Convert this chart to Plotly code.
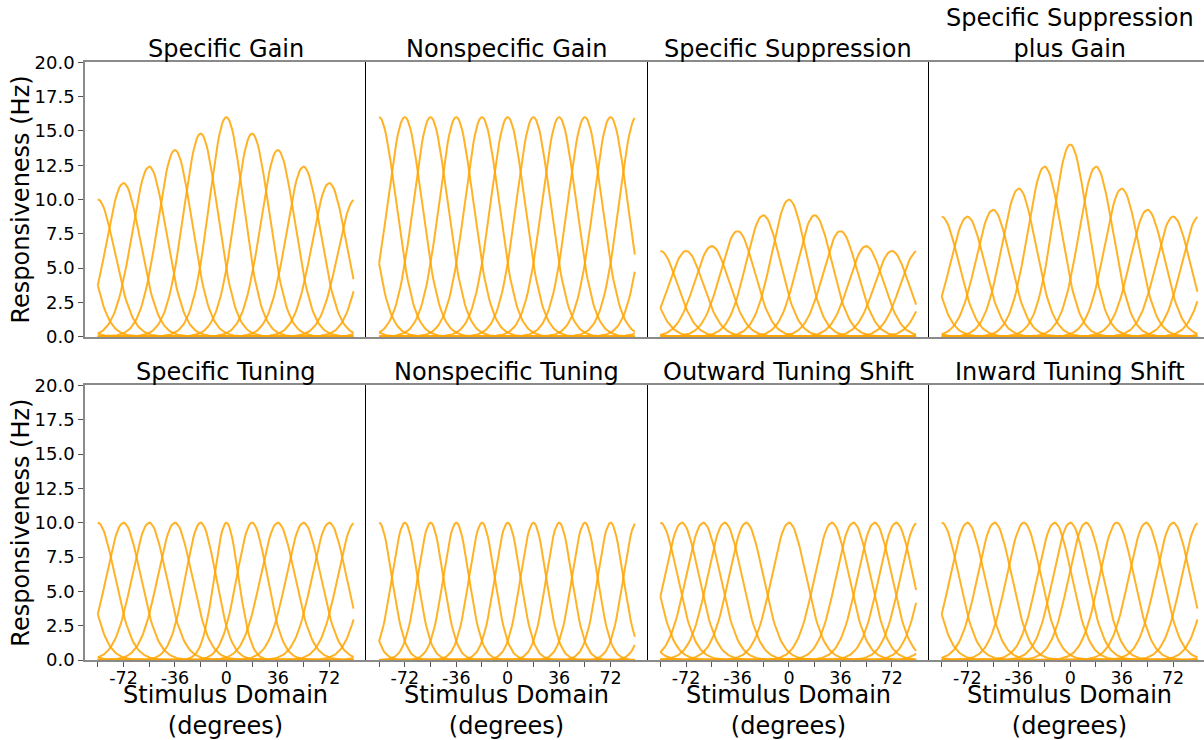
import numpy as np
import plotly.graph_objects as go

# ---------------- data ----------------
panel_titles = ["Specific Gain", "Nonspecific Gain", "Specific Suppression",
                "Specific Suppression<br>plus Gain",
                "Specific Tuning", "Nonspecific Tuning",
                "Outward Tuning Shift", "Inward Tuning Shift"]

stimulus_start, stimulus_stop, stimulus_step = -90, 90, 1.0

preferred_deg = [-90, -72, -54, -36, -18, 0, 18, 36, 54, 72]
outward_deg = [-90, -75, -60, -45, -30, 0, 30, 45, 60, 75]
inward_deg = [-90, -72, -53, -32.5, -11, 0, 11, 32.5, 53, 72]

baseline_amp = [10, 10, 10, 10, 10, 10, 10, 10, 10, 10]
specific_gain_amp = [10, 11.2, 12.4, 13.6, 14.8, 16, 14.8, 13.6, 12.4, 11.2]
nonspecific_gain_amp = [16, 16, 16, 16, 16, 16, 16, 16, 16, 16]
specific_supp_amp = [6.25, 6.25, 6.6, 7.7, 8.85, 10, 8.85, 7.7, 6.6, 6.25]
supp_plus_gain_amp = [8.75, 8.75, 9.25, 10.8, 12.4, 14, 12.4, 10.8, 9.25, 8.75]

baseline_kappa = [5.75, 5.75, 5.75, 5.75, 5.75, 5.75, 5.75, 5.75, 5.75, 5.75]
specific_tuning_kappa = [5.75, 5.75, 5.75, 5.75, 7.3, 11.5, 7.3, 5.75, 5.75, 5.75]
nonspecific_tuning_kappa = [10.4, 10.4, 10.4, 10.4, 10.4, 10.4, 10.4, 10.4, 10.4, 10.4]

panel_centers = [preferred_deg, preferred_deg, preferred_deg, preferred_deg,
                 preferred_deg, preferred_deg, outward_deg, inward_deg]
panel_amps = [specific_gain_amp, nonspecific_gain_amp, specific_supp_amp,
              supp_plus_gain_amp, baseline_amp, baseline_amp, baseline_amp, baseline_amp]
panel_kappas = [baseline_kappa, baseline_kappa, baseline_kappa, baseline_kappa,
                specific_tuning_kappa, nonspecific_tuning_kappa,
                baseline_kappa, baseline_kappa]

x_tick_vals = [-90, -72, -54, -36, -18, 0, 18, 36, 54, 72]
x_tick_text = ["", "-72", "", "-36", "", "0", "", "36", "", "72"]
y_tick_vals = [0, 2.5, 5, 7.5, 10, 12.5, 15, 17.5, 20]
y_tick_text = ["0.0", "2.5", "5.0", "7.5", "10.0", "12.5", "15.0", "17.5", "20.0"]

# ---------------- layout geometry (pixels) ----------------
W, H = 1204, 740
FONT = "DejaVu Sans"
col_left_px = [85.0, 366.3, 647.6, 928.9]
col_w_px = 281.3
row_px = [(62.3, 336.7), (385.4, 660.0)]
x_lo, x_hi = -98.95, 97.95
px_per_deg = col_w_px / (x_hi - x_lo)

stim = np.arange(stimulus_start, stimulus_stop, stimulus_step)

fig = go.Figure()
annotations = []
for p in range(8):
    r, c = divmod(p, 4)
    ax = "" if p == 0 else str(p + 1)
    for ctr, amp, kap in zip(panel_centers[p], panel_amps[p], panel_kappas[p]):
        resp = amp * np.exp(kap * (np.cos(np.deg2rad(2 * (stim - ctr))) - 1))
        fig.add_trace(go.Scatter(x=stim, y=resp, mode="lines",
                                 line=dict(color="rgba(255,165,0,0.85)", width=2),
                                 xaxis="x" + ax, yaxis="y" + ax,
                                 hoverinfo="skip", showlegend=False))
    left = col_left_px[c]
    right = min(left + col_w_px, W)
    rng_hi = x_lo + (right - left) / px_per_deg
    top, bot = row_px[r]
    fig.layout["xaxis" + ax] = dict(
        domain=[left / W, right / W], range=[x_lo, rng_hi], anchor="y" + ax,
        automargin=False,
        showline=True, linecolor="#8a8a8a", linewidth=1.5, mirror=True,
        showgrid=False, zeroline=False,
        tickmode="array", tickvals=x_tick_vals, ticktext=x_tick_text,
        ticks="outside" if r == 1 else "", ticklen=5, tickcolor="#555", tickwidth=1,
        ticklabelstandoff=-4,
        showticklabels=(r == 1),
        tickfont=dict(family=FONT, size=17.5, color="black"))
    ydict = dict(domain=[1 - bot / H, 1 - top / H], range=[0, 20], anchor="x" + ax,
                 automargin=False,
                 showgrid=False, zeroline=False, showline=True)
    if c == 0:
        ydict.update(linecolor="#8a8a8a", linewidth=1.5,
                     tickmode="array", tickvals=y_tick_vals, ticktext=y_tick_text,
                     ticks="outside", ticklen=5, tickcolor="#555", tickwidth=1,
                     tickfont=dict(family=FONT, size=18, color="black"))
    else:
        ydict.update(linecolor="black", linewidth=1, ticks="", showticklabels=False)
    fig.layout["yaxis" + ax] = ydict

    cx = (left + col_w_px / 2) / W
    annotations.append(dict(text=panel_titles[p], x=cx, y=1 - (top + 3) / H,
                            xref="paper", yref="paper", xanchor="center", yanchor="bottom",
                            showarrow=False, font=dict(family=FONT, size=24, color="black")))
    if r == 1:
        annotations.append(dict(text="Stimulus Domain<br>(degrees)", x=cx, y=1 - 680 / H,
                                xref="paper", yref="paper", xanchor="center", yanchor="top",
                                borderpad=0, showarrow=False,
                                font=dict(family=FONT, size=24, color="black")))
    if c == 0:
        annotations.append(dict(text="Responsiveness (Hz)", x=21 / W, y=1 - (top + bot) / 2 / H,
                                xref="paper", yref="paper", xanchor="center", yanchor="middle",
                                textangle=-90, showarrow=False,
                                font=dict(family=FONT, size=24, color="black")))

fig.update_layout(template="none", width=W, height=H,
                  margin=dict(l=0, r=0, t=0, b=0, autoexpand=False),
                  paper_bgcolor="white", plot_bgcolor="white",
                  showlegend=False, annotations=annotations,
                  font=dict(family=FONT, color="black"))
fig.write_html("out.html")
